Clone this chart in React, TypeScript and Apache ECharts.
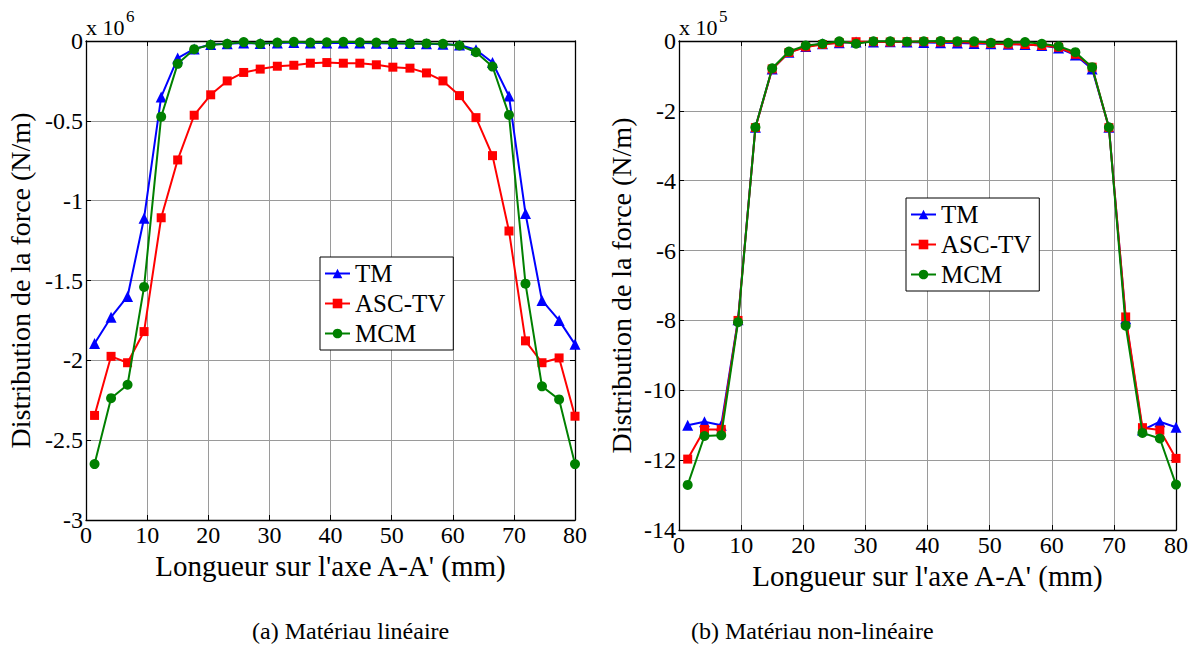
import React, { useEffect, useRef } from "react";
import * as echarts from "echarts";

const xPos = [1.4, 4.1, 6.8, 9.5, 12.3, 15.0, 17.7, 20.4, 23.1, 25.8, 28.5, 31.3, 34.0, 36.7, 39.4, 42.1, 44.8, 47.5, 50.2, 53.0, 55.7, 58.4, 61.1, 63.8, 66.5, 69.2, 71.9, 74.6, 77.4, 80.0];

// (a) linear material, x 10^6 N/m
const linTM = [-1.895, -1.73, -1.6, -1.11, -0.35, -0.107, -0.05, -0.022, -0.018, -0.012, -0.015, -0.013, -0.01, -0.012, -0.012, -0.012, -0.012, -0.014, -0.015, -0.016, -0.018, -0.02, -0.025, -0.055, -0.135, -0.345, -1.08, -1.625, -1.75, -1.9];
const linASC = [-2.345, -1.975, -2.015, -1.82, -1.107, -0.745, -0.465, -0.337, -0.25, -0.197, -0.176, -0.158, -0.152, -0.139, -0.135, -0.139, -0.139, -0.149, -0.164, -0.17, -0.2, -0.25, -0.342, -0.48, -0.718, -1.19, -1.878, -2.015, -1.985, -2.35];
const linMCM = [-2.65, -2.237, -2.153, -1.54, -0.474, -0.143, -0.051, -0.024, -0.018, -0.007, -0.018, -0.01, -0.005, -0.01, -0.008, -0.005, -0.008, -0.01, -0.012, -0.015, -0.015, -0.018, -0.028, -0.07, -0.16, -0.463, -1.52, -2.163, -2.245, -2.65];

// (b) non-linear material, x 10^5 N/m
const nlTM = [-11.0, -10.9, -11.0, -7.98, -2.47, -0.8, -0.32, -0.16, -0.08, -0.05, -0.03, -0.03, -0.02, -0.03, -0.04, -0.05, -0.06, -0.07, -0.08, -0.09, -0.1, -0.13, -0.2, -0.4, -0.8, -2.47, -7.95, -11.14, -10.9, -11.06];
const nlASC = [-11.97, -11.12, -11.12, -8.0, -2.48, -0.8, -0.33, -0.17, -0.1, -0.05, -0.02, -0.02, -0.03, -0.02, -0.02, -0.03, -0.03, -0.05, -0.07, -0.09, -0.1, -0.13, -0.18, -0.38, -0.75, -2.48, -7.9, -11.07, -11.14, -11.95];
const nlMCM = [-12.71, -11.31, -11.29, -8.05, -2.47, -0.78, -0.3, -0.13, -0.08, -0.01, -0.08, -0.01, -0.01, -0.02, -0.01, 0.0, -0.01, -0.01, -0.05, -0.05, -0.03, -0.08, -0.15, -0.32, -0.75, -2.47, -8.15, -11.22, -11.38, -12.7];

const seriesNames = ["TM", "ASC-TV", "MCM"];
const xTickLabels = [0, 10, 20, 30, 40, 50, 60, 70, 80];
const yTickLabelsA = [0, -0.5, -1, -1.5, -2, -2.5, -3];
const yTickLabelsB = [0, -2, -4, -6, -8, -10, -12, -14];
const xTitle = "Longueur sur l'axe A-A' (mm)";
const yTitle = "Distribution de la force (N/m)";
const captions = ["(a) Matériau linéaire", "(b) Matériau non-linéaire"];
const exponents = ["6", "5"];

const SERIF = "Liberation Serif";
const COLORS = ["#0000ff", "#ff0000", "#008000"];
const SYMBOLS = ["triangle", "rect", "circle"];
const SIZES = [11, 9, 10];

function pairs(ys: number[]) {
  return xPos.map((x, i) => [x, ys[i]]);
}

function ext(arr: number[]) {
  return { min: Math.min(...arr), max: Math.max(...arr), interval: Math.abs(arr[1] - arr[0]) };
}

export default function App() {
  const ref = useRef<HTMLDivElement>(null);
  useEffect(() => {
    if (!ref.current) return;
    const chart = echarts.init(ref.current, null, { renderer: "svg" });

    const xT = ext(xTickLabels);
    const yTA = ext(yTickLabelsA);
    const yTB = ext(yTickLabelsB);

    const mkLine = () => ({ show: true, onZero: false, lineStyle: { color: "#000", width: 1.3 } });
    const mkTick = () => ({ show: true, inside: true, length: 5, lineStyle: { color: "#000", width: 1 } });
    const mkGrid = () => ({ show: true, lineStyle: { color: "#9a9a9a", width: 1 } });
    const mkLabel = () => ({
      show: true,
      margin: 3,
      hideOverlap: false,
      color: "#000",
      fontFamily: SERIF,
      fontSize: 24,
    });

    const mkX = (g: number, nameGap: number) => [
      {
        type: "value", gridIndex: g, position: "bottom", min: xT.min, max: xT.max, interval: xT.interval,
        axisLine: mkLine(), axisTick: mkTick(), splitLine: mkGrid(),
        axisLabel: mkLabel(),
        name: xTitle, nameLocation: "middle", nameGap,
        nameTextStyle: { color: "#000", fontFamily: SERIF, fontSize: 29 },
      },
      {
        type: "value", gridIndex: g, position: "top", min: xT.min, max: xT.max, interval: xT.interval,
        axisLine: mkLine(), axisTick: mkTick(), splitLine: { show: false }, axisLabel: { show: false },
      },
    ];
    const mkY = (g: number, t: any, nameGap: number) => [
      {
        type: "value", gridIndex: g, position: "left", min: t.min, max: t.max, interval: t.interval,
        axisLine: mkLine(), axisTick: mkTick(), splitLine: mkGrid(),
        axisLabel: mkLabel(),
        name: yTitle, nameLocation: "middle", nameGap,
        nameTextStyle: { color: "#000", fontFamily: SERIF, fontSize: 28 },
      },
      {
        type: "value", gridIndex: g, position: "right", min: t.min, max: t.max, interval: t.interval,
        axisLine: mkLine(), axisTick: mkTick(), splitLine: { show: false }, axisLabel: { show: false },
      },
    ];

    const mkSeries = (data: number[][], xi: number, yi: number) =>
      data.map((d, k) => ({
        type: "line",
        name: seriesNames[k],
        xAxisIndex: xi,
        yAxisIndex: yi,
        data: pairs(d as any),
        color: COLORS[k],
        symbol: SYMBOLS[k],
        symbolSize: SIZES[k],
        showAllSymbol: true,
        clip: false,
        lineStyle: { width: 2, color: COLORS[k] },
        itemStyle: { color: COLORS[k] },
        z: 3 + k,
      }));

    const legendCommon = {
      orient: "vertical",
      data: seriesNames,
      backgroundColor: "#fff",
      borderColor: "#000",
      borderWidth: 1,
      borderRadius: 0,
      padding: [4, 8, 4, 4],
      itemGap: 5,
      itemWidth: 25,
      itemHeight: 12,
      textStyle: { color: "#000", fontFamily: SERIF, fontSize: 25 },
      selectedMode: false,
    };

    const expo = (left: number, exp: string) => [
      { type: "text", left, top: 16, style: { text: "x 10", fill: "#000", font: "22px " + SERIF } },
      { type: "text", left: left + 40, top: 8, style: { text: exp, fill: "#000", font: "17px " + SERIF } },
    ];

    chart.setOption({
      animation: false,
      backgroundColor: "#fff",
      grid: [
        { left: 86, top: 41, width: 489, height: 479 },
        { left: 679, top: 41, width: 497, height: 489 },
      ],
      xAxis: [...mkX(0, 30), ...mkX(1, 30)],
      yAxis: [...mkY(0, yTA, 52), ...mkY(1, yTB, 44)],
      legend: [
        { ...legendCommon, left: 320, top: 257 },
        { ...legendCommon, left: 906, top: 198 },
      ],
      series: [
        ...mkSeries([linTM, linASC, linMCM] as any, 0, 0),
        ...mkSeries([nlTM, nlASC, nlMCM] as any, 2, 2),
      ],
      graphic: [
        ...expo(86, exponents[0]),
        ...expo(679, exponents[1]),
        {
          type: "text", left: 252, top: 619,
          style: { text: captions[0], fill: "#000", font: "24px " + SERIF },
        },
        {
          type: "text", left: 691, top: 619,
          style: { text: captions[1], fill: "#000", font: "24px " + SERIF },
        },
      ],
    } as any);
    return () => chart.dispose();
  }, []);
  return (
    <div
      ref={ref}
      style={{ position: "fixed", left: 0, top: 0, width: 1198, height: 645, background: "#fff" }}
    />
  );
}
